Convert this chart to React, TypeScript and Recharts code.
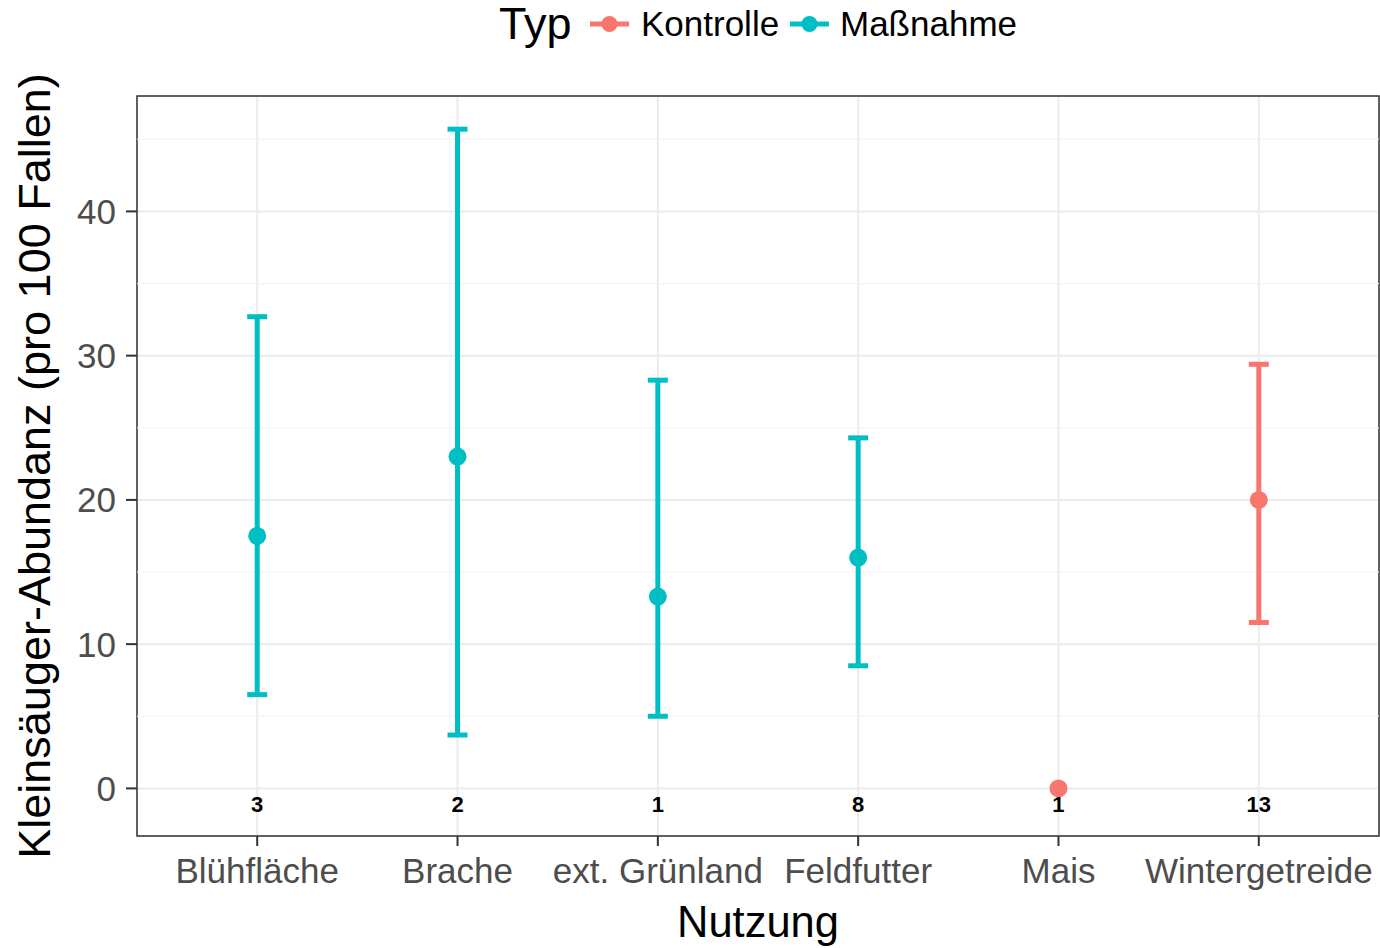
import React from "react";
import {
  ScatterChart, Scatter, XAxis, YAxis, CartesianGrid, ErrorBar,
  ReferenceLine, ReferenceArea, Label
} from "recharts";

// Werte
const categories = ["Blühfläche", "Brache", "ext. Grünland", "Feldfutter", "Mais", "Wintergetreide"];
const typ = ["Maßnahme", "Maßnahme", "Maßnahme", "Maßnahme", "Kontrolle", "Kontrolle"];
const means = [17.5, 23.0, 13.3, 16.0, 0, 20.0];
const lower = [6.5, 3.7, 5.0, 8.5, null, 11.5];
const upper = [32.7, 45.7, 28.3, 24.3, null, 29.4];
const counts = [3, 2, 1, 8, 1, 13];
const yTicks = [0, 10, 20, 30, 40];
const minorTicks = [5, 15, 25, 35, 45];
const countLabelY = -1.1;

const COLORS: Record<string, string> = { Kontrolle: "#F8766D", "Maßnahme": "#00BFC4" };

const rows = categories.map((name, i) => ({
  x: i + 1,
  name,
  typ: typ[i],
  y: means[i],
  err: lower[i] == null ? null : [means[i] - (lower[i] as number), (upper[i] as number) - means[i]],
}));
const massnahmeRows = rows.filter((r) => r.typ === "Maßnahme");
const kontrolleRows = rows.filter((r) => r.typ === "Kontrolle");
const countRows = categories.map((name, i) => ({ x: i + 1, y: countLabelY, n: counts[i] }));

const dot = (color: string) => (props: any) =>
  <circle cx={props.cx} cy={props.cy} r={9} fill={color} />;

const countLabel = (props: any) => (
  <text x={props.cx} y={props.cy} dy="0.355em" textAnchor="middle"
    fontSize={22} fontWeight="bold" fill="#000">{props.payload.n}</text>
);

const LegendKey = ({ left, color }: { left: number; color: string }) => (
  <svg style={{ position: "absolute", left, top: 0 }} width={40} height={48}>
    <line x1={0} x2={39} y1={24} y2={24} stroke={color} strokeWidth={5} />
    <circle cx={19.5} cy={24} r={8} fill={color} />
  </svg>
);

export default function App() {
  return (
    <div style={{ position: "absolute", left: 0, top: 0, width: 1380, height: 948,
      background: "#fff", fontFamily: "'Liberation Sans', Arial, sans-serif" }}>
      <div style={{ position: "absolute", left: 0, top: 0, width: 1380, height: 48, lineHeight: "48px", color: "#000" }}>
        <span style={{ position: "absolute", left: 499, fontSize: 45 }}>Typ</span>
        <LegendKey left={590} color={COLORS.Kontrolle} />
        <span style={{ position: "absolute", left: 641, fontSize: 35 }}>Kontrolle</span>
        <LegendKey left={790} color={COLORS["Maßnahme"]} />
        <span style={{ position: "absolute", left: 840, fontSize: 35 }}>Maßnahme</span>
      </div>
      <ScatterChart width={1380} height={948}
        margin={{ top: 96, right: 1, bottom: 52, left: 57 }}>
        <CartesianGrid stroke="#EBEBEB" strokeWidth={2} />
        {minorTicks.map((t) => (
          <ReferenceLine key={t} y={t} stroke="#F2F2F2" strokeWidth={1} />
        ))}
        <XAxis type="number" dataKey="x" domain={[0.4, 6.6]} ticks={[1, 2, 3, 4, 5, 6]}
          allowDataOverflow interval={0} height={60}
          tickFormatter={(v: number) => categories[v - 1]}
          axisLine={false} tickLine={{ stroke: "#333333", strokeWidth: 2 }}
          tickSize={10} tickMargin={12} tick={{ fill: "#4D4D4D", fontSize: 35 }}>
          <Label content={(p: any) => (
            <text x={p.viewBox.x + p.viewBox.width / 2} y={p.viewBox.y + 101}
              textAnchor="middle" fontSize={43.5} fill="#000">Nutzung</text>
          )} />
        </XAxis>
        <YAxis type="number" dataKey="y" domain={[-3.3, 48]} ticks={yTicks}
          allowDataOverflow width={80}
          axisLine={false} tickLine={{ stroke: "#333333", strokeWidth: 2 }}
          tickSize={11} tickMargin={10} tick={{ fill: "#4D4D4D", fontSize: 35 }}>
          <Label content={(p: any) => {
            const cy = p.viewBox.y + p.viewBox.height / 2;
            return (
              <text x={50} y={cy} transform={`rotate(-90, 50, ${cy})`}
                textAnchor="middle" fontSize={45} fill="#000">
                Kleinsäuger-Abundanz (pro 100 Fallen)
              </text>
            );
          }} />
        </YAxis>
        <ReferenceArea x1={0.4} x2={6.6} y1={-3.3} y2={48} ifOverflow="visible"
          fill="none" stroke="#333333" strokeWidth={1.5} />
        <Scatter name="Maßnahme" data={massnahmeRows} shape={dot(COLORS["Maßnahme"])}
          isAnimationActive={false}>
          <ErrorBar dataKey="err" direction="y" width={10} stroke={COLORS["Maßnahme"]}
            strokeWidth={5} isAnimationActive={false} />
        </Scatter>
        <Scatter name="Kontrolle" data={kontrolleRows} shape={dot(COLORS.Kontrolle)}
          isAnimationActive={false}>
          <ErrorBar dataKey="err" direction="y" width={10} stroke={COLORS.Kontrolle}
            strokeWidth={5} isAnimationActive={false} />
        </Scatter>
        <Scatter name="n" data={countRows} shape={countLabel} isAnimationActive={false} />
      </ScatterChart>
    </div>
  );
}
